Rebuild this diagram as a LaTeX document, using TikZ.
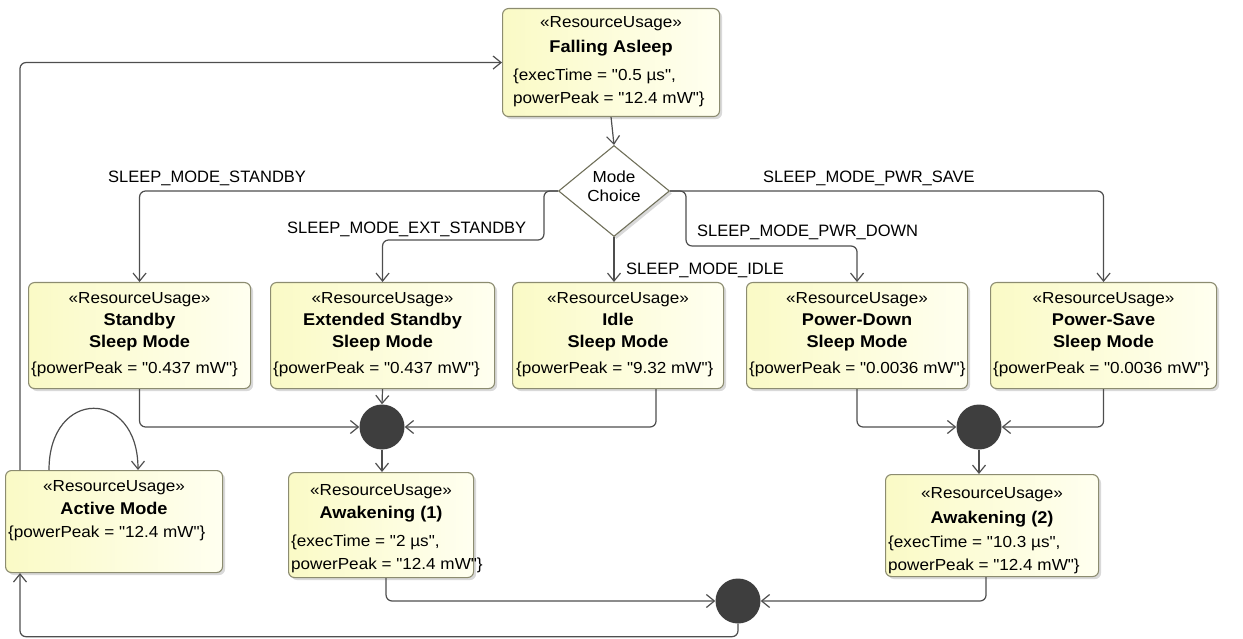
\documentclass[tikz,border=0pt]{standalone}
\usepackage{fontspec}
\setmainfont{Liberation Sans}
\newfontfamily\boxfont[FakeStretch=1.07]{Liberation Sans}
\usetikzlibrary{arrows.meta,shapes.geometric,shadows,calc}

\definecolor{wire}{RGB}{78,78,78}
\definecolor{boxline}{RGB}{140,140,112}
\definecolor{boxfillA}{RGB}{250,250,198}
\definecolor{boxfillB}{RGB}{255,255,240}
\definecolor{joinfill}{RGB}{62,62,62}

\begin{document}
\begin{tikzpicture}[x=1pt,y=-1pt,
  usage/.style={draw=boxline, line width=1.1pt, rounded corners=6pt,
    left color=boxfillA, right color=boxfillB, inner sep=0pt, anchor=north west,
    drop shadow={shadow xshift=2.5pt, shadow yshift=-2.5pt, opacity=0.3}},
  choice/.style={diamond, draw=boxline!80!black, line width=1.1pt, fill=white,
    minimum width=111, minimum height=91, inner sep=0pt,
    drop shadow={shadow xshift=2.5pt, shadow yshift=-2.5pt, opacity=0.3}},
  joinbar/.style={circle, fill=joinfill, draw=none, minimum size=45, inner sep=0pt},
  stereo/.style={font=\boxfont\fontsize{16}{19}\selectfont, anchor=base, inner sep=0pt},
  title/.style={font=\boxfont\fontsize{17}{20}\selectfont\bfseries, anchor=base, inner sep=0pt},
  attr/.style={font=\boxfont\fontsize{16}{19}\selectfont, anchor=base west, inner sep=0pt},
  guard/.style={font=\fontsize{16.5}{19}\selectfont, anchor=base west, inner sep=0pt},
  conn/.style={draw=wire, line width=1.2pt, rounded corners=6pt,
    -{Straight Barb[length=8pt,width=13pt]}}
]
\useasboundingbox (0,0) rectangle (1243,639);

% ---------- resource usage boxes ----------
\node[usage, minimum width=217, minimum height=108] (fa) at (502,8) {};
\node[stereo] (fa-st) at ($(fa.north)+(0,20)$) {«ResourceUsage»};
\node[title]  (fa-nm) at ($(fa.north)+(0,45)$) {Falling Asleep};
\node[attr]   (fa-a1) at ($(fa.north west)+(11,73)$) {\{execTime = "0.5 µs",};
\node[attr]   (fa-a2) at ($(fa.north west)+(11,96)$) {powerPeak = "12.4 mW"\}};

\node[usage, minimum width=222, minimum height=106] (sb) at (28,282) {};
\node[stereo] (sb-st) at ($(sb.north)+(0,21)$) {«ResourceUsage»};
\node[title]  (sb-n1) at ($(sb.north)+(0,44)$) {Standby};
\node[title]  (sb-n2) at ($(sb.north)+(0,65)$) {Sleep Mode};
\node[attr]   (sb-a1) at ($(sb.north west)+(3,91)$) {\{powerPeak = "0.437 mW"\}};

\node[usage, minimum width=224, minimum height=106] (es) at (270,282) {};
\node[stereo] (es-st) at ($(es.north)+(0,21)$) {«ResourceUsage»};
\node[title]  (es-n1) at ($(es.north)+(0,44)$) {Extended Standby};
\node[title]  (es-n2) at ($(es.north)+(0,65)$) {Sleep Mode};
\node[attr]   (es-a1) at ($(es.north west)+(3,91)$) {\{powerPeak = "0.437 mW"\}};

\node[usage, minimum width=211, minimum height=106] (id) at (512,282) {};
\node[stereo] (id-st) at ($(id.north)+(0,21)$) {«ResourceUsage»};
\node[title]  (id-n1) at ($(id.north)+(0,44)$) {Idle};
\node[title]  (id-n2) at ($(id.north)+(0,65)$) {Sleep Mode};
\node[attr]   (id-a1) at ($(id.north west)+(4,91)$) {\{powerPeak = "9.32 mW"\}};

\node[usage, minimum width=221, minimum height=106] (pd) at (746,282) {};
\node[stereo] (pd-st) at ($(pd.north)+(0,21)$) {«ResourceUsage»};
\node[title]  (pd-n1) at ($(pd.north)+(0,44)$) {Power-Down};
\node[title]  (pd-n2) at ($(pd.north)+(0,65)$) {Sleep Mode};
\node[attr]   (pd-a1) at ($(pd.north west)+(3,91)$) {\{powerPeak = "0.0036 mW"\}};

\node[usage, minimum width=226, minimum height=106] (ps) at (990,282) {};
\node[stereo] (ps-st) at ($(ps.north)+(0,21)$) {«ResourceUsage»};
\node[title]  (ps-n1) at ($(ps.north)+(0,44)$) {Power-Save};
\node[title]  (ps-n2) at ($(ps.north)+(0,65)$) {Sleep Mode};
\node[attr]   (ps-a1) at ($(ps.north west)+(3,91)$) {\{powerPeak = "0.0036 mW"\}};

\node[usage, minimum width=217, minimum height=102] (am) at (5,470) {};
\node[stereo] (am-st) at ($(am.north)+(0,21)$) {«ResourceUsage»};
\node[title]  (am-nm) at ($(am.north)+(0,44)$) {Active Mode};
\node[attr]   (am-a1) at ($(am.north west)+(3,67)$) {\{powerPeak = "12.4 mW"\}};

\node[usage, minimum width=185, minimum height=105] (a1) at (288,472) {};
\node[stereo] (a1-st) at ($(a1.north)+(0,23)$) {«ResourceUsage»};
\node[title]  (a1-nm) at ($(a1.north)+(0,46)$) {Awakening (1)};
\node[attr]   (a1-a1) at ($(a1.north west)+(3,74)$) {\{execTime = "2 µs",};
\node[attr]   (a1-a2) at ($(a1.north west)+(3,97)$) {powerPeak = "12.4 mW"\}};

\node[usage, minimum width=213, minimum height=102] (a2) at (885,474) {};
\node[stereo] (a2-st) at ($(a2.north)+(0,24)$) {«ResourceUsage»};
\node[title]  (a2-nm) at ($(a2.north)+(0,49)$) {Awakening (2)};
\node[attr]   (a2-a1) at ($(a2.north west)+(3,73)$) {\{execTime = "10.3 µs",};
\node[attr]   (a2-a2) at ($(a2.north west)+(3,96)$) {powerPeak = "12.4 mW"\}};

% ---------- decision and joins ----------
\node[choice] (mc) at (614,191) {};
\node[stereo] (mc-l1) at ($(mc.center)+(0,-8)$) {Mode};
\node[stereo] (mc-l2) at ($(mc.center)+(0,11)$) {Choice};

\node[joinbar] (j1) at (382,427) {};
\node[joinbar] (j2) at (979,427) {};
\node[joinbar] (j3) at (738,601) {};

% ---------- guards ----------
\node[guard] (g-sb) at (108,183) {SLEEP\_MODE\_STANDBY};
\node[guard] (g-es) at (287,234) {SLEEP\_MODE\_EXT\_STANDBY};
\node[guard] (g-id) at (626,275) {SLEEP\_MODE\_IDLE};
\node[guard] (g-pd) at (697,237) {SLEEP\_MODE\_PWR\_DOWN};
\node[guard] (g-ps) at (763,183) {SLEEP\_MODE\_PWR\_SAVE};

% ---------- flows ----------
\draw[conn] (fa.south) -- (mc.north);
\draw[conn] (mc.west) -| (sb.north);
\draw[conn] (mc.west) -- ++(-14,0) -- ++(0,49) -| (es.north);
\draw[conn] (mc.south) -- (mc.south |- id.north);
\draw[conn] (mc.east) -| (ps.north);
\draw[conn] (mc.east) -- ++(16,0) -- ++(0,55) -| (pd.north);

\draw[conn] (sb.south) |- (j1.west);
\draw[conn] (es.south) -- (j1.north);
\draw[conn] ([xshift=38pt]id.south) |- (j1.east);
\draw[conn] (j1.south) -- (j1.south |- a1.north);

\draw[conn] (pd.south) |- (j2.west);
\draw[conn] (ps.south) |- (j2.east);
\draw[conn] (j2.south) -- (j2.south |- a2.north);

\draw[conn] ([xshift=5pt]a1.south) |- (j3.west);
\draw[conn] ([xshift=-6pt]a2.south) |- (j3.east);
\draw[conn] (j3.south) -- ++(0,13) -| ([xshift=15pt]am.south west);
\draw[conn] ([xshift=15pt]am.north west) |- (fa.west);
\draw[conn] ([xshift=44pt]am.north west) .. controls +(0,-82) and +(0,-82) .. ([xshift=133pt]am.north west);
\end{tikzpicture}
\end{document}
